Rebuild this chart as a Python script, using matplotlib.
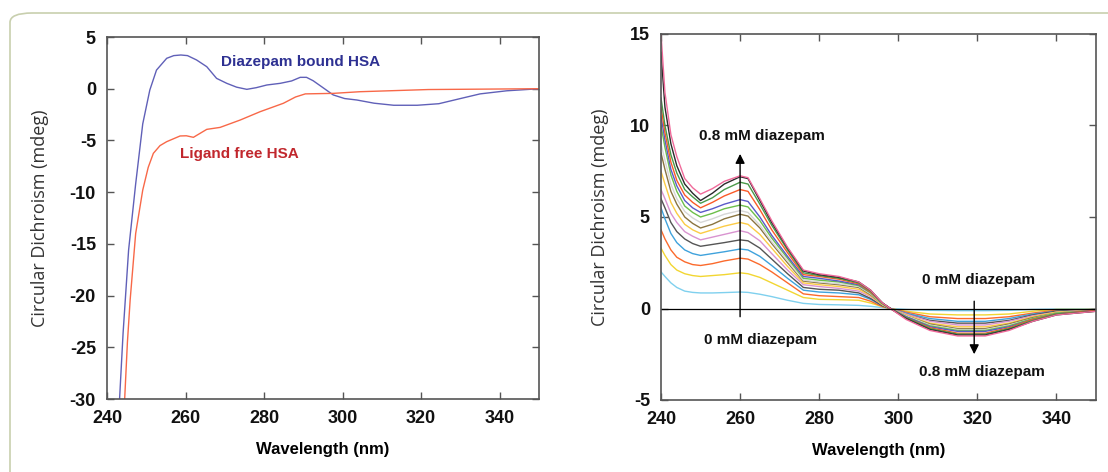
import matplotlib
matplotlib.use("Agg")
import matplotlib.pyplot as plt
from matplotlib.patches import FancyBboxPatch

plt.rcParams['axes.unicode_minus'] = False

# ---- left panel: HSA with / without diazepam ----
wl_blue = [243.2, 244.1, 245.5, 247.3, 249.1, 250.9, 252.6, 255.2, 257.0, 258.8, 260.5,
           262.8, 265.4, 267.9, 270.5, 273.0, 275.6, 278.0, 280.7, 284.1, 287.0, 289.2,
           290.8, 292.5, 295.0, 297.6, 300.5, 303.6, 308.0, 313.0, 319.0, 324.5, 330.0,
           335.0, 341.8, 346.0, 350.0]
cd_blue = [-30.0, -23.6, -15.6, -9.2, -3.4, -0.13, 1.8, 2.94, 3.2, 3.26, 3.2,
           2.78, 2.13, 1.0, 0.52, 0.15, -0.06, 0.1, 0.36, 0.52, 0.75, 1.1,
           1.1, 0.77, 0.1, -0.6, -0.95, -1.09, -1.4, -1.6, -1.6, -1.45, -0.95,
           -0.5, -0.2, -0.1, 0.0]

wl_red = [244.5, 245.2, 245.9, 247.3, 249.1, 250.5, 251.8, 253.5, 255.2, 258.6, 260.2,
          262.0, 265.4, 268.8, 273.9, 279.0, 284.9, 288.0, 290.5, 297.6, 304.4, 321.8, 350.0]
cd_red = [-30.0, -24.5, -20.4, -14.0, -9.8, -7.6, -6.25, -5.5, -5.12, -4.57, -4.55,
          -4.7, -3.93, -3.74, -3.03, -2.22, -1.41, -0.8, -0.5, -0.45, -0.29, -0.08, 0.0]

# ---- right panel: titration, 0 mM (first row) to 0.8 mM (last row) diazepam ----
wl = [240, 241, 242.5, 244, 246, 248, 250, 253, 256, 260, 262, 265, 268, 272, 276,
      280, 285, 290, 293, 296, 298, 302, 308, 315, 322, 328, 334, 340, 350]
titration = [
    [2.0, 1.75, 1.4, 1.15, 0.95, 0.88, 0.85, 0.85, 0.87, 0.9, 0.88, 0.78, 0.65, 0.45, 0.28, 0.22, 0.2, 0.17, 0.12, 0.05, 0.0, -0.05, -0.1, -0.12, -0.12, -0.1, -0.05, -0.03, -0.02],
    [3.3, 2.9, 2.4, 2.1, 1.9, 1.8, 1.75, 1.8, 1.85, 1.95, 1.9, 1.7, 1.4, 1.0, 0.6, 0.5, 0.48, 0.45, 0.3, 0.1, 0.0, -0.15, -0.3, -0.35, -0.35, -0.3, -0.15, -0.05, -0.05],
    [4.3, 3.8, 3.2, 2.8, 2.55, 2.4, 2.35, 2.45, 2.6, 2.75, 2.7, 2.4, 2.0, 1.4, 0.8, 0.7, 0.65, 0.6, 0.4, 0.1, 0.0, -0.2, -0.45, -0.55, -0.55, -0.45, -0.25, -0.1, -0.05],
    [5.5, 4.9, 4.1, 3.6, 3.2, 3.0, 2.9, 3.0, 3.1, 3.25, 3.2, 2.85, 2.35, 1.65, 1.0, 0.9, 0.85, 0.75, 0.5, 0.15, 0.0, -0.25, -0.55, -0.7, -0.7, -0.55, -0.3, -0.15, -0.05],
    [6.0, 5.5, 4.7, 4.2, 3.8, 3.55, 3.4, 3.5, 3.6, 3.75, 3.7, 3.3, 2.7, 1.9, 1.15, 1.05, 1.0, 0.85, 0.55, 0.15, 0.0, -0.3, -0.65, -0.8, -0.8, -0.65, -0.35, -0.15, -0.05],
    [6.5, 6.0, 5.2, 4.7, 4.2, 3.95, 3.75, 3.9, 4.05, 4.25, 4.15, 3.7, 3.0, 2.1, 1.3, 1.2, 1.1, 0.95, 0.65, 0.2, 0.0, -0.3, -0.7, -0.9, -0.9, -0.7, -0.4, -0.2, -0.05],
    [7.5, 6.8, 5.8, 5.2, 4.6, 4.3, 4.1, 4.3, 4.5, 4.7, 4.6, 4.05, 3.3, 2.3, 1.4, 1.3, 1.2, 1.05, 0.7, 0.2, 0.0, -0.35, -0.8, -1.0, -1.0, -0.8, -0.45, -0.2, -0.1],
    [8.5, 7.6, 6.4, 5.7, 5.0, 4.65, 4.4, 4.6, 4.9, 5.15, 5.05, 4.4, 3.55, 2.5, 1.5, 1.4, 1.3, 1.15, 0.75, 0.25, 0.0, -0.4, -0.85, -1.1, -1.1, -0.85, -0.5, -0.25, -0.1],
    [9.0, 8.1, 6.8, 6.0, 5.3, 4.95, 4.7, 4.9, 5.15, 5.35, 5.25, 4.55, 3.65, 2.6, 1.55, 1.45, 1.35, 1.2, 0.8, 0.25, 0.0, -0.4, -0.9, -1.15, -1.15, -0.9, -0.55, -0.25, -0.1],
    [10.0, 8.8, 7.3, 6.4, 5.6, 5.25, 5.0, 5.2, 5.45, 5.65, 5.55, 4.8, 3.85, 2.75, 1.65, 1.55, 1.45, 1.25, 0.85, 0.25, 0.0, -0.45, -0.95, -1.2, -1.2, -0.95, -0.55, -0.25, -0.1],
    [10.5, 9.2, 7.6, 6.7, 5.9, 5.5, 5.25, 5.45, 5.7, 5.95, 5.85, 5.0, 4.0, 2.85, 1.75, 1.65, 1.5, 1.3, 0.9, 0.3, 0.0, -0.45, -1.0, -1.25, -1.25, -1.0, -0.6, -0.3, -0.1],
    [11.0, 9.6, 8.0, 7.0, 6.2, 5.8, 5.5, 5.8, 6.15, 6.5, 6.4, 5.4, 4.3, 3.05, 1.85, 1.75, 1.6, 1.35, 0.9, 0.3, 0.0, -0.5, -1.05, -1.35, -1.35, -1.05, -0.6, -0.3, -0.1],
    [11.5, 10.0, 8.4, 7.4, 6.5, 6.1, 5.75, 6.05, 6.5, 6.9, 6.8, 5.7, 4.55, 3.2, 1.95, 1.8, 1.65, 1.4, 0.95, 0.3, 0.0, -0.5, -1.1, -1.4, -1.4, -1.1, -0.65, -0.3, -0.15],
    [14.0, 11.0, 9.0, 7.8, 6.8, 6.3, 5.9, 6.3, 6.8, 7.2, 7.1, 5.9, 4.7, 3.3, 2.05, 1.85, 1.7, 1.45, 1.0, 0.3, 0.0, -0.55, -1.15, -1.45, -1.45, -1.15, -0.7, -0.35, -0.15],
    [15.0, 11.8, 9.5, 8.3, 7.1, 6.6, 6.25, 6.55, 6.95, 7.25, 7.15, 6.0, 4.8, 3.35, 2.1, 1.9, 1.75, 1.45, 1.0, 0.3, 0.0, -0.6, -1.2, -1.5, -1.5, -1.2, -0.7, -0.35, -0.15],
]
titration_colors = ['#7fd0ee', '#f2d632', '#fb6a2c', '#3fa2dc', '#555555', '#d993d0',
                    '#fbcb45', '#8a7440', '#d6d6d6', '#6cbf4a', '#5a5ac8', '#fa5a28',
                    '#4a9a4a', '#2a2a2a', '#f06a9a']

bold_font = ['Liberation Sans Narrow', 'Liberation Sans', 'DejaVu Sans']
label_font = ['Open Sans', 'DejaVu Sans']


def style_axes(ax, ylim, yticks):
    ax.set_xlim(240, 350)
    ax.set_ylim(*ylim)
    ax.set_xticks([240, 260, 280, 300, 320, 340])
    ax.set_yticks(yticks)
    ax.tick_params(direction='in', length=5, width=1, color='#555555',
                   top=True, right=True, labelsize=13, pad=8)
    for lab in ax.get_xticklabels() + ax.get_yticklabels():
        lab.set_family(bold_font)
        lab.set_fontweight('bold')
        lab.set_color('#111111')
    for s in ax.spines.values():
        s.set_color('#555555')
        s.set_linewidth(1.2)
    ax.set_xlabel('Wavelength (nm)', family=bold_font, fontweight='bold',
                  fontsize=12, labelpad=11)
    ax.set_ylabel('Circular Dichroism (mdeg)', family=label_font,
                  fontsize=13, color='#333333', labelpad=15)


fig = plt.figure(figsize=(11.08, 4.72), dpi=100)

# light rounded frame around the figure (only top and left edges visible)
frame = FancyBboxPatch((10 / 1108, -0.1), 1.2, 1.1 - 13 / 472,
                       boxstyle='round,pad=0,rounding_size=0.02',
                       transform=fig.transFigure, fill=False,
                       edgecolor='#c8cfae', linewidth=1.2)
fig.patches.append(frame)

ax1 = fig.add_axes([107 / 1108, 73 / 472, 432 / 1108, 362 / 472])
ax1.plot(wl_blue, cd_blue, color='#6060b8', lw=1.0)
ax1.plot(wl_red, cd_red, color='#f86848', lw=1.0)
style_axes(ax1, (-30, 5), range(-30, 6, 5))
ax1.text(269, 2.6, 'Diazepam bound HSA', color='#2e3192', fontsize=11,
         family=bold_font, fontweight='bold', va='center')
ax1.text(258.6, -6.3, 'Ligand free HSA', color='#c1272d', fontsize=11,
         family=bold_font, fontweight='bold', va='center')

ax2 = fig.add_axes([661 / 1108, 72 / 472, 435 / 1108, 366 / 472])
for vals, c in zip(titration, titration_colors):
    ax2.plot(wl, vals, color=c, lw=1.0)
ax2.axhline(0, color='black', lw=0.9)
style_axes(ax2, (-5, 15), range(-5, 16, 5))

ax2.annotate('', xy=(260, 8.6), xytext=(260, -0.6),
             arrowprops=dict(arrowstyle='-|>', color='black', lw=1.0,
                             mutation_scale=14))
ax2.annotate('', xy=(319.2, -2.65), xytext=(319.2, 0.55),
             arrowprops=dict(arrowstyle='-|>', color='black', lw=1.0,
                             mutation_scale=14))
ann = dict(family=bold_font, fontweight='bold', fontsize=11, ha='center',
           va='center', color='#111111')
ax2.text(265.5, 9.4, '0.8 mM diazepam', **ann)
ax2.text(265.3, -1.7, '0 mM diazepam', **ann)
ax2.text(320.2, 1.55, '0 mM diazepam', **ann)
ax2.text(321.2, -3.45, '0.8 mM diazepam', **ann)

fig.savefig('out.png', dpi=100)
